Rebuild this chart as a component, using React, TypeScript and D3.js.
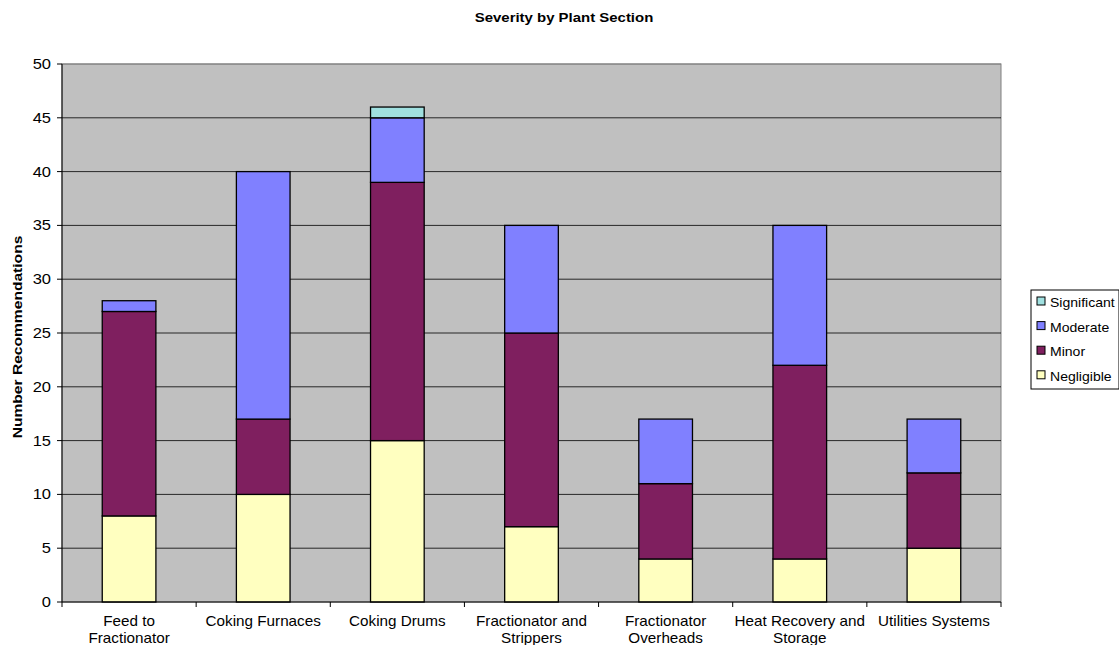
import React from "react";
import * as d3 from "d3";

const categories: string[][] = [
  ["Feed to", "Fractionator"],
  ["Coking Furnaces"],
  ["Coking Drums"],
  ["Fractionator and", "Strippers"],
  ["Fractionator", "Overheads"],
  ["Heat Recovery and", "Storage"],
  ["Utilities Systems"],
];
const negligible = [8, 10, 15, 7, 4, 4, 5];
const minor = [19, 7, 24, 18, 7, 18, 7];
const moderate = [1, 23, 6, 10, 6, 13, 5];
const significant = [0, 0, 1, 0, 0, 0, 0];
const seriesNames = ["Negligible", "Minor", "Moderate", "Significant"];
const seriesColors = ["#FFFFC0", "#7F1F5F", "#8080FF", "#A0E0E0"];
const yTicks = [0, 5, 10, 15, 20, 25, 30, 35, 40, 45, 50];

const W = 1119, H = 645;
const left = 62, right = 1001, top = 64, bottom = 602;
const font = "'Liberation Sans', Arial, sans-serif";

function HText(props: { x: number; y: number; sx: number; size: number; anchor?: string; bold?: boolean; children: React.ReactNode }) {
  const { x, y, sx, size, anchor, bold, children } = props;
  return (
    <g transform={`translate(${x},${y}) scale(${sx},1)`}>
      <text x={0} y={0} fontSize={size} textAnchor={anchor || "start"} fontWeight={bold ? "bold" : "normal"}>{children}</text>
    </g>
  );
}

export default function App() {
  const idx = categories.map((_, i) => i);
  const x = d3.scaleBand<number>().domain(idx).range([left, right]).padding(0);
  const y = d3.scaleLinear().domain([0, 50]).range([bottom, top]);
  const bw = x.bandwidth() * 0.4;
  const data = idx.map((i) => ({ i, v0: negligible[i], v1: minor[i], v2: moderate[i], v3: significant[i] }));
  const stack = d3.stack<any>().keys(["v0", "v1", "v2", "v3"]);
  const stacked = stack(data);
  const legendItems = [3, 2, 1, 0];
  return (
    <svg width={W} height={H} style={{ position: "absolute", left: 0, top: 0 }} fontFamily={font}>
      <rect x={0} y={0} width={W} height={H} fill="#fff" />
      <HText x={564} y={22} sx={1.15} size={13} anchor="middle" bold>Severity by Plant Section</HText>
      <rect x={left} y={top} width={right - left} height={bottom - top} fill="#C0C0C0" stroke="#808080" strokeWidth={1} />
      {yTicks.map((t) => (
        <g key={t}>
          {t > 0 && t < 50 && <line x1={left} x2={right} y1={y(t)} y2={y(t)} stroke="#000" strokeWidth={1} strokeOpacity={0.8} />}
          <line x1={left - 5} x2={left} y1={y(t)} y2={y(t)} stroke="#000" />
          <HText x={left - 11} y={y(t) + 5} sx={1.18} size={14} anchor="end">{t}</HText>
        </g>
      ))}
      <line x1={left} x2={right} y1={top} y2={top} stroke="#808080" />
      {stacked.map((s, si) =>
        s.map((d, i) =>
          d[1] - d[0] > 0 ? (
            <rect key={`${si}-${i}`} x={x(i)! + (x.bandwidth() - bw) / 2} y={y(d[1])} width={bw} height={y(d[0]) - y(d[1])}
              fill={seriesColors[si]} stroke="#000" strokeWidth={1.3} />
          ) : null
        )
      )}
      <line x1={left} x2={left} y1={top} y2={bottom} stroke="#000" />
      <line x1={left} x2={right} y1={bottom} y2={bottom} stroke="#000" />
      {[...idx, idx.length].map((i) => {
        const px = i < idx.length ? x(i)! : right;
        return <line key={i} x1={px} x2={px} y1={bottom} y2={bottom + 5} stroke="#000" />;
      })}
      {categories.map((lines, i) =>
        lines.map((l, j) => (
          <HText key={`${i}-${j}`} x={x(i)! + x.bandwidth() / 2} y={626 + j * 17} sx={1.09} size={14} anchor="middle">{l}</HText>
        ))
      )}
      <g transform={`translate(22,337) rotate(-90) scale(1.2,1)`}>
        <text x={0} y={0} textAnchor="middle" fontSize={13} fontWeight="bold">Number Recommendations</text>
      </g>
      <rect x={1031} y={290} width={88} height={99} fill="#fff" stroke="#000" />
      {legendItems.map((si, k) => (
        <g key={si}>
          <rect x={1037} y={297 + k * 24.6} width={8} height={8} fill={seriesColors[si]} stroke="#000" />
          <HText x={1050} y={307 + k * 24.6} sx={1.08} size={13}>{seriesNames[si]}</HText>
        </g>
      ))}
    </svg>
  );
}
